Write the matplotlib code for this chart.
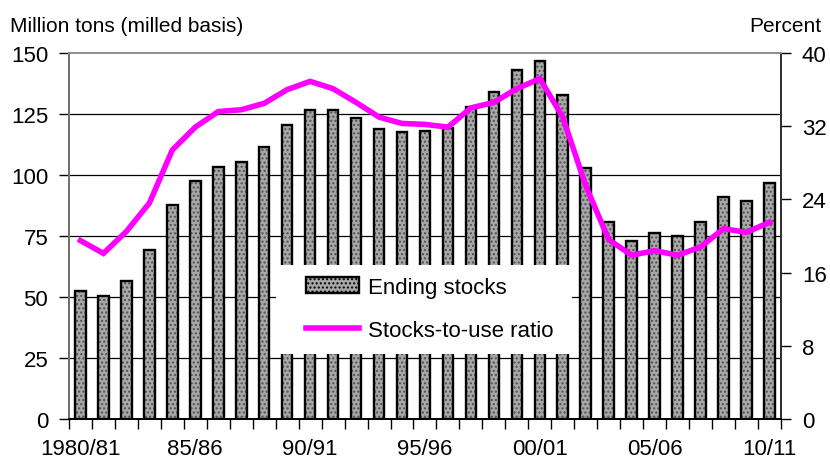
import matplotlib
matplotlib.use("Agg")
import matplotlib.pyplot as plt
from matplotlib.patches import Rectangle, Patch
from matplotlib.lines import Line2D
import numpy as np

plt.rcParams['font.family'] = ['Liberation Sans', 'DejaVu Sans']

years = [f"{y}/{(y + 1) % 100:02d}" for y in range(1980, 2011)]
ending_stocks = [52.6, 50.5, 56.7, 69.3, 87.7, 97.7, 103.4, 105.2, 111.6, 120.6,
                 126.6, 126.6, 123.2, 119.0, 117.5, 118.2, 119.1, 127.7, 134.2, 143.0,
                 146.6, 132.8, 102.9, 80.9, 73.1, 76.1, 74.9, 80.6, 90.8, 89.3, 96.6]
stocks_to_use = [19.5, 18.1, 20.5, 23.6, 29.4, 31.9, 33.6, 33.8, 34.5, 36.0,
                 36.9, 36.1, 34.6, 33.0, 32.3, 32.2, 31.9, 34.0, 34.6, 36.1,
                 37.2, 33.0, 25.5, 19.6, 17.9, 18.4, 17.9, 18.8, 20.8, 20.4, 21.5]
tick_labels = ["1980/81", "85/86", "90/91", "95/96", "00/01", "05/06", "10/11"]
left_ticks = [0, 25, 50, 75, 100, 125, 150]
right_ticks = [0, 8, 16, 24, 32, 40]

FS = 16

fig = plt.figure(figsize=(8.3, 4.64), dpi=100)
ax = fig.add_axes([0.0831, 0.0948, 0.8578, 0.7888])
x = np.arange(len(years))

ax.bar(x, ending_stocks, width=0.46, color='#a8a8a8', hatch='....',
       edgecolor='#505050', linewidth=0, zorder=2)
ax.bar(x, ending_stocks, width=0.46, fill=False, edgecolor='black',
       linewidth=1.7, zorder=3)

ax.set_xlim(-0.5, len(years) - 0.5)
ax.set_ylim(0, 150)
ax.set_yticks(left_ticks)
for t in left_ticks[1:-1]:
    ax.axhline(t, color='black', linewidth=0.9, zorder=1)

ax.set_xticks(np.arange(-0.5, len(years), 1.0), minor=True)
ax.set_xticks(x[::5])
ax.set_xticklabels(tick_labels)
ax.tick_params(axis='x', which='major', length=0, pad=14, labelsize=FS)
ax.tick_params(axis='x', which='minor', length=7, width=1, direction='out')
ax.tick_params(axis='y', length=7, width=1, pad=8, labelsize=FS)

ax2 = ax.twinx()
ax2.set_ylim(0, 40)
ax2.set_yticks(right_ticks)
ax2.tick_params(axis='y', length=7, width=1, pad=8, labelsize=FS)
ax2.plot(x, stocks_to_use, color='#ff00ff', linewidth=4, zorder=4,
         solid_joinstyle='miter')

for a in (ax, ax2):
    a.spines['left'].set_color('#707070')
    a.spines['top'].set_color('#909090')
    a.spines['right'].set_color('#303030')
    a.spines['bottom'].set_color('black')
    for s in a.spines.values():
        s.set_linewidth(1.3)

# white legend box
ax2.add_patch(Rectangle((0.291, 0.178), 0.415, 0.243, transform=ax2.transAxes,
                        facecolor='white', edgecolor='none', zorder=5))
handles = [Patch(facecolor='#a8a8a8', edgecolor='black', hatch='....', linewidth=1.7),
           Line2D([0], [0], color='#ff00ff', linewidth=4)]
leg = ax2.legend(handles, ['Ending stocks', 'Stocks-to-use ratio'],
                 loc='center left', bbox_to_anchor=(0.305, 0.3), frameon=False,
                 fontsize=FS, handlelength=2.4, handleheight=0.75,
                 labelspacing=1.0, handletextpad=0.4)
leg.set_zorder(6)

fig.text(0.012, 1 - 32 / 464, 'Million tons (milled basis)', fontsize=15,
         va='baseline', ha='left')
fig.text(0.990, 1 - 32 / 464, 'Percent', fontsize=15, va='baseline', ha='right')

fig.savefig('out.png', dpi=100)
